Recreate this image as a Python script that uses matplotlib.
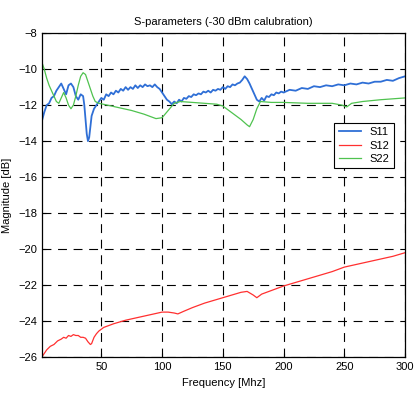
import matplotlib
matplotlib.use("Agg")
import matplotlib.pyplot as plt

plt.rcParams["font.family"] = ["Liberation Sans", "DejaVu Sans"]

# S11 (noisy blue trace)
f_s11 = [1, 3, 5, 7, 9, 11, 13, 15, 17, 19, 21, 23, 25, 27, 29, 31, 33, 35, 36, 37,
         38, 39, 40, 41, 42, 44, 46, 48, 50, 52, 54, 56, 58, 60, 62, 64, 66, 68, 70, 72,
         74, 76, 78, 80, 82, 84, 86, 88, 90, 92, 94, 96, 98, 100, 102, 104, 106, 108, 110, 112,
         114, 116, 118, 120, 122, 124, 126, 128, 130, 132, 134, 136, 138, 140, 142, 144, 146, 148, 150, 152,
         154, 156, 158, 160, 162, 164, 166, 168, 170, 172, 174, 176, 178, 180, 182, 184, 186, 188, 190, 192,
         194, 196, 198, 200, 205, 210, 215, 220, 225, 230, 235, 240, 245, 250, 255, 260, 265, 270, 275, 280,
         285, 290, 295, 300]
s11 = [-12.9, -12.4, -12.0, -11.9, -11.6, -11.5, -11.2, -11.0, -10.8, -11.1, -11.4, -10.9, -10.8, -11.0, -11.5, -11.7, -11.4, -11.5, -12.0, -12.8,
       -13.6, -14.0, -13.8, -13.2, -12.6, -12.2, -12.0, -11.8, -11.6, -11.7, -11.4, -11.5, -11.3, -11.4, -11.2, -11.3, -11.1, -11.2, -11.0, -11.15,
       -11.0, -11.1, -10.9, -11.05, -10.9, -11.0, -10.85, -10.95, -10.9, -11.0, -10.85, -11.0, -11.1, -11.3, -11.5, -11.7, -11.8, -11.95, -11.8, -11.9,
       -11.7, -11.8, -11.6, -11.65, -11.5, -11.55, -11.4, -11.45, -11.35, -11.4, -11.25, -11.3, -11.2, -11.3, -11.15, -11.2, -11.1, -11.15, -11.0, -11.1,
       -10.95, -11.0, -10.85, -10.9, -10.8, -10.75, -10.6, -10.4, -10.55, -10.8, -11.1, -11.4, -11.7, -11.8, -11.6, -11.75, -11.5, -11.55, -11.4, -11.45,
       -11.3, -11.35, -11.25, -11.3, -11.15, -11.2, -11.05, -11.1, -10.95, -11.0, -10.9, -10.95, -10.85, -10.9, -10.8, -10.85, -10.75, -10.8, -10.7, -10.7,
       -10.6, -10.65, -10.5, -10.4]

# S12 (red trace)
f_s12 = [1, 3, 5, 8, 11, 14, 17, 19, 21, 23, 25, 27, 29, 31, 33, 35, 37, 39, 41, 42,
         44, 46, 48, 52, 56, 60, 70, 80, 90, 100, 105, 110, 113, 118, 125, 135, 145, 155, 165, 170,
         175, 178, 182, 190, 200, 210, 220, 230, 240, 250, 260, 270, 280, 290, 300]
s12 = [-26.0, -25.8, -25.6, -25.4, -25.3, -25.1, -25.0, -24.9, -24.95, -24.8, -24.85, -24.75, -24.8, -24.8, -24.9, -24.9, -24.95, -25.15, -25.3, -25.25,
       -24.9, -24.7, -24.55, -24.35, -24.25, -24.15, -23.95, -23.8, -23.65, -23.5, -23.5, -23.55, -23.6, -23.45, -23.25, -23.0, -22.8, -22.6, -22.4, -22.35,
       -22.55, -22.7, -22.5, -22.3, -22.05, -21.85, -21.65, -21.45, -21.25, -21.0, -20.85, -20.7, -20.55, -20.4, -20.2]

# S22 (green trace)
f_s22 = [1, 3, 5, 7, 9, 11, 13, 15, 17, 19, 21, 23, 25, 27, 29, 31, 33, 35, 37, 39,
         41, 43, 45, 48, 55, 65, 75, 85, 95, 100, 105, 110, 115, 125, 135, 145, 150, 155, 160, 165,
         170, 172, 175, 178, 181, 190, 200, 220, 240, 248, 252, 256, 265, 280, 300]
s22 = [-9.6, -10.0, -10.5, -10.9, -11.2, -11.5, -11.8, -11.9, -11.6, -11.3, -11.6, -12.0, -12.2, -12.0, -11.5, -10.9, -10.4, -10.2, -10.3, -10.7,
       -11.1, -11.5, -11.8, -11.9, -12.0, -12.15, -12.3, -12.5, -12.75, -12.7, -12.3, -11.9, -11.8, -11.85, -11.9, -11.95, -12.05, -12.3, -12.55, -12.8,
       -13.1, -13.2, -12.8, -12.2, -11.8, -11.85, -11.85, -11.9, -11.9, -12.0, -12.1, -11.9, -11.8, -11.7, -11.6]

x_ticks = [50, 100, 150, 200, 250, 300]
y_ticks = [-8, -10, -12, -14, -16, -18, -20, -22, -24, -26]

fig = plt.figure(figsize=(4.18, 3.99), dpi=100)
ax = fig.add_axes([0.10, 0.105, 0.869, 0.812])

ax.plot(f_s11, s11, color="#2f6fd6", linewidth=1.3, label="S11")
ax.plot(f_s12, s12, color="#ff3030", linewidth=0.9, label="S12")
ax.plot(f_s22, s22, color="#4fc24f", linewidth=0.9, label="S22")

ax.set_xlim(1, 300)
ax.set_ylim(-26, -8)
ax.set_xticks(x_ticks)
ax.set_yticks(y_ticks)
ax.tick_params(direction="in", labelsize=8, length=3)
ax.grid(True, color="black", linestyle=(0, (8, 6)), linewidth=0.8)
for s in ax.spines.values():
    s.set_linewidth(0.9)

ax.set_title("S-parameters (-30 dBm calubration)", fontsize=8)
ax.set_xlabel("Frequency [Mhz]", fontsize=8)
ax.set_ylabel("Magnitude [dB]", fontsize=8)

leg = ax.legend(loc="upper right", bbox_to_anchor=(0.985, 0.74), fontsize=8,
                fancybox=False, framealpha=1, edgecolor="black",
                handlelength=2.0, borderpad=0.4, labelspacing=0.3)
leg.get_frame().set_linewidth(0.8)

fig.savefig("out.png", dpi=100)
